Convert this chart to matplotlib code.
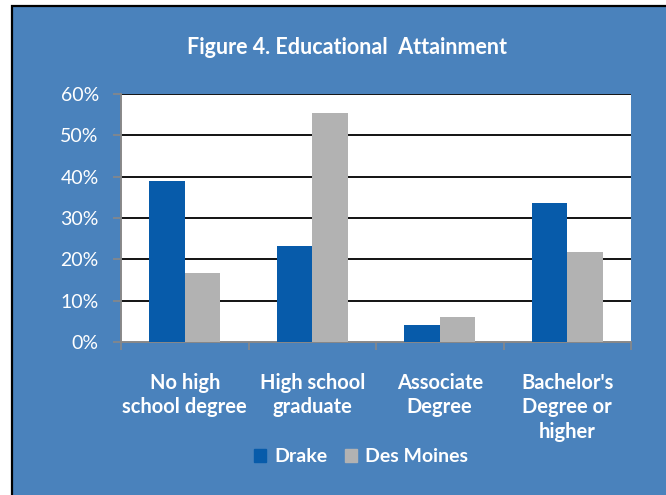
import matplotlib.pyplot as plt
from matplotlib.patches import Rectangle, Patch

# data
categories = ['No high\nschool degree', 'High school\ngraduate', 'Associate\nDegree',
              "Bachelor's\nDegree or\nhigher"]
drake = [39.0, 23.3, 4.1, 33.6]
des_moines = [16.8, 55.4, 6.1, 21.7]
yticks = [0, 10, 20, 30, 40, 50, 60]

bg = '#4A82BC'
c_drake = '#075BAA'
c_dm = '#B2B2B2'

plt.rcParams['font.family'] = ['Lato', 'DejaVu Sans']

fig = plt.figure(figsize=(6.66, 4.95), dpi=100)
fig.patch.set_facecolor('white')

# blue chart area with black border on left/top
fig.patches.append(Rectangle((12 / 666, -0.05), 1.1, 1.05 - 6 / 495,
                             transform=fig.transFigure, facecolor=bg,
                             edgecolor='black', linewidth=1.6, zorder=-1))

ax = fig.add_axes([121 / 666, 153 / 495, 510 / 666, 248 / 495])
ax.set_zorder(1)
ax.set_facecolor('white')

x = list(range(len(categories)))
w = 0.28
ax.bar([i - w / 2 for i in x], drake, w, color=c_drake, zorder=3)
ax.bar([i + w / 2 for i in x], des_moines, w, color=c_dm, zorder=3)

ax.set_xlim(-0.5, len(categories) - 0.5)
ax.set_ylim(0, 60)
ax.set_yticks(yticks)
ax.set_yticklabels([f'{v}%' for v in yticks], color='white', fontsize=14)
ax.tick_params(axis='y', length=6, color='#888888', width=1.2, pad=10)

for v in yticks[1:]:
    ax.axhline(v, color='black', lw=1.3, zorder=2)

ax.set_xticks(x)
ax.set_xticklabels(categories, color='white', fontsize=14.5, fontweight='bold',
                   linespacing=1.28, va='top')
ax.tick_params(axis='x', length=0, pad=22)
ax.set_xticks([i - 0.5 for i in range(len(categories) + 1)], minor=True)
ax.tick_params(axis='x', which='minor', length=6, color='#888888', width=1.2)

for s in ['top', 'right']:
    ax.spines[s].set_visible(False)
ax.spines['left'].set_color('#888888')
ax.spines['bottom'].set_color('#888888')
ax.spines['left'].set_linewidth(1.4)
ax.spines['bottom'].set_linewidth(1.4)

fig.text(347 / 666, 1 - 48 / 495, 'Figure 4. Educational  Attainment', color='white',
         fontsize=15.5, fontweight='bold', ha='center', va='center')

handles = [Patch(color=c_drake, label='Drake'), Patch(color=c_dm, label='Des Moines')]
leg = fig.legend(handles=handles, loc='center', bbox_to_anchor=(361 / 666, 1 - 457 / 495),
                 ncol=2, frameon=False, handlelength=0.65, handleheight=0.65,
                 handletextpad=0.4, columnspacing=0.9,
                 prop={'size': 14, 'weight': 'bold'})
for t in leg.get_texts():
    t.set_color('white')

fig.savefig('out.png', dpi=100, facecolor=fig.get_facecolor())
